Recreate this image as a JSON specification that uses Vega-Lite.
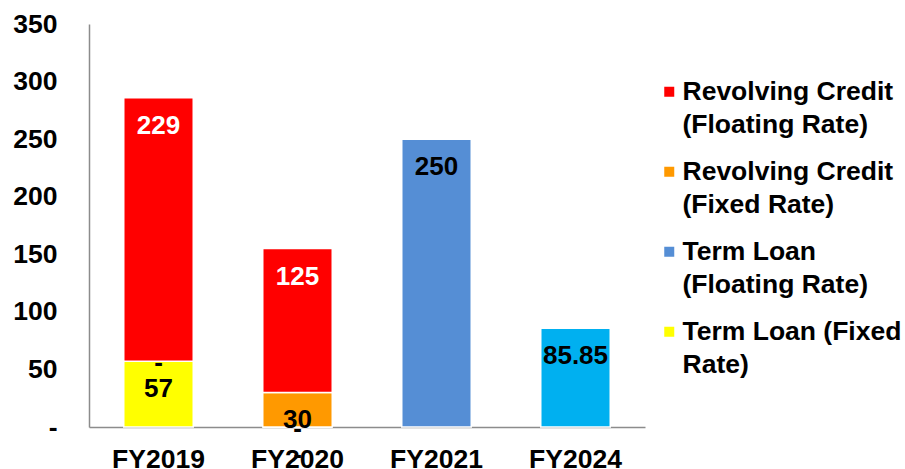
{
  "$schema": "https://vega.github.io/schema/vega-lite/v6.json",
  "autosize": {"type": "none"},
  "width": 556,
  "height": 403,
  "padding": {"left": 89, "top": 24, "right": 260, "bottom": 42},
  "background": "white",
  "config": {
    "view": {"stroke": null},
    "font": "Liberation Sans",
    "style": {"guide-label": {"lineHeight": 33}},
    "axis": {
      "labelFont": "Liberation Sans",
      "labelFontWeight": "bold",
      "labelFontSize": 26.5,
      "labelColor": "black",
      "domainColor": "#8c8c8c",
      "domainWidth": 1.5,
      "ticks": false,
      "tickSize": 0,
      "grid": false,
      "title": null
    }
  },
  "data": {
    "values": [
      {"year": "FY2019", "series": "Term Loan (Fixed Rate)", "value": 57},
      {"year": "FY2019", "series": "Revolving Credit (Fixed Rate)", "value": 0},
      {"year": "FY2019", "series": "Revolving Credit (Floating Rate)", "value": 229},
      {"year": "FY2020", "series": "Term Loan (Fixed Rate)", "value": 0},
      {"year": "FY2020", "series": "Term Loan (Floating Rate)", "value": 0},
      {"year": "FY2020", "series": "Revolving Credit (Fixed Rate)", "value": 30},
      {"year": "FY2020", "series": "Revolving Credit (Floating Rate)", "value": 125},
      {"year": "FY2021", "series": "Term Loan (Floating Rate)", "value": 250},
      {"year": "FY2024", "series": "Term Loan (FY2024)", "value": 85.85}
    ]
  },
  "transform": [
    {"calculate": "indexof(['Term Loan (Fixed Rate)', 'Term Loan (Floating Rate)', 'Revolving Credit (Fixed Rate)', 'Revolving Credit (Floating Rate)', 'Term Loan (FY2024)'], datum.series)", "as": "k"},
    {"stack": "value", "groupby": ["year"], "sort": [{"field": "k", "order": "ascending"}], "as": ["v0", "v1"]}
  ],
  "encoding": {
    "x": {
      "field": "year",
      "type": "nominal",
      "scale": {"paddingInner": 0.5, "paddingOuter": 0.25},
      "axis": {"labelAngle": 0, "labelPadding": 19}
    }
  },
  "layer": [
    {
      "mark": {"type": "bar", "stroke": "white", "strokeWidth": 1.5},
      "encoding": {
        "y": {
          "field": "v1",
          "type": "quantitative",
          "scale": {"domain": [0, 350]},
          "axis": {
            "values": [0, 50, 100, 150, 200, 250, 300, 350],
            "labelPadding": 32,
            "labelExpr": "datum.value == 0 ? '-\u00a0\u00a0' : datum.label"
          }
        },
        "y2": {"field": "v0"},
        "color": {
          "field": "series",
          "type": "nominal",
          "scale": {
            "domain": ["Revolving Credit (Floating Rate)", "Revolving Credit (Fixed Rate)", "Term Loan (Floating Rate)", "Term Loan (Fixed Rate)", "Term Loan (FY2024)"],
            "range": ["#FF0000", "#FF9900", "#558ED5", "#FFFF00", "#00B0F0"]
          },
          "legend": {
            "values": ["Revolving Credit (Floating Rate)", "Revolving Credit (Fixed Rate)", "Term Loan (Floating Rate)", "Term Loan (Fixed Rate)"],
            "title": null,
            "orient": "none",
            "legendX": 567,
            "legendY": 54.5,
            "symbolType": "square",
            "symbolSize": 100,
            "symbolStrokeWidth": 0,
            "labelFont": "Liberation Sans",
            "labelFontWeight": "bold",
            "labelFontSize": 26.5,
            "labelColor": "black",
            "labelLimit": 400,
            "labelOffset": 0,
            "rowPadding": 20,
            "labelExpr": "datum.label == 'Revolving Credit (Floating Rate)' ? ['Revolving Credit', '(Floating Rate)'] : datum.label == 'Revolving Credit (Fixed Rate)' ? ['Revolving Credit', '(Fixed Rate)'] : datum.label == 'Term Loan (Floating Rate)' ? ['Term Loan', '(Floating Rate)'] : ['Term Loan (Fixed', 'Rate)']",
            "encode": {
              "labels": {"lineHeight": {"value": 33}, "dy": {"value": 16.5}}
            }
          }
        }
      }
    },
    {
      "transform": [{"filter": "datum.value != 0 || datum.series == 'Term Loan (Floating Rate)'"}],
      "mark": {"type": "text", "fontSize": 26, "fontWeight": "bold", "font": "Liberation Sans", "baseline": "middle", "dy": 28},
      "encoding": {
        "y": {"field": "v1", "type": "quantitative"},
        "text": {"condition": {"test": "datum.value == 0", "value": "-"}, "field": "value", "type": "nominal"},
        "color": {"condition": {"test": "datum.series == 'Revolving Credit (Floating Rate)'", "value": "white"}, "value": "black"}
      }
    },
    {
      "transform": [{"filter": "datum.value == 0 && datum.series != 'Term Loan (Floating Rate)'"}],
      "mark": {"type": "text", "fontSize": 26, "fontWeight": "bold", "font": "Liberation Sans", "baseline": "middle", "dy": 2, "color": "black"},
      "encoding": {
        "y": {"field": "v1", "type": "quantitative"},
        "text": {"value": "-"}
      }
    }
  ]
}
